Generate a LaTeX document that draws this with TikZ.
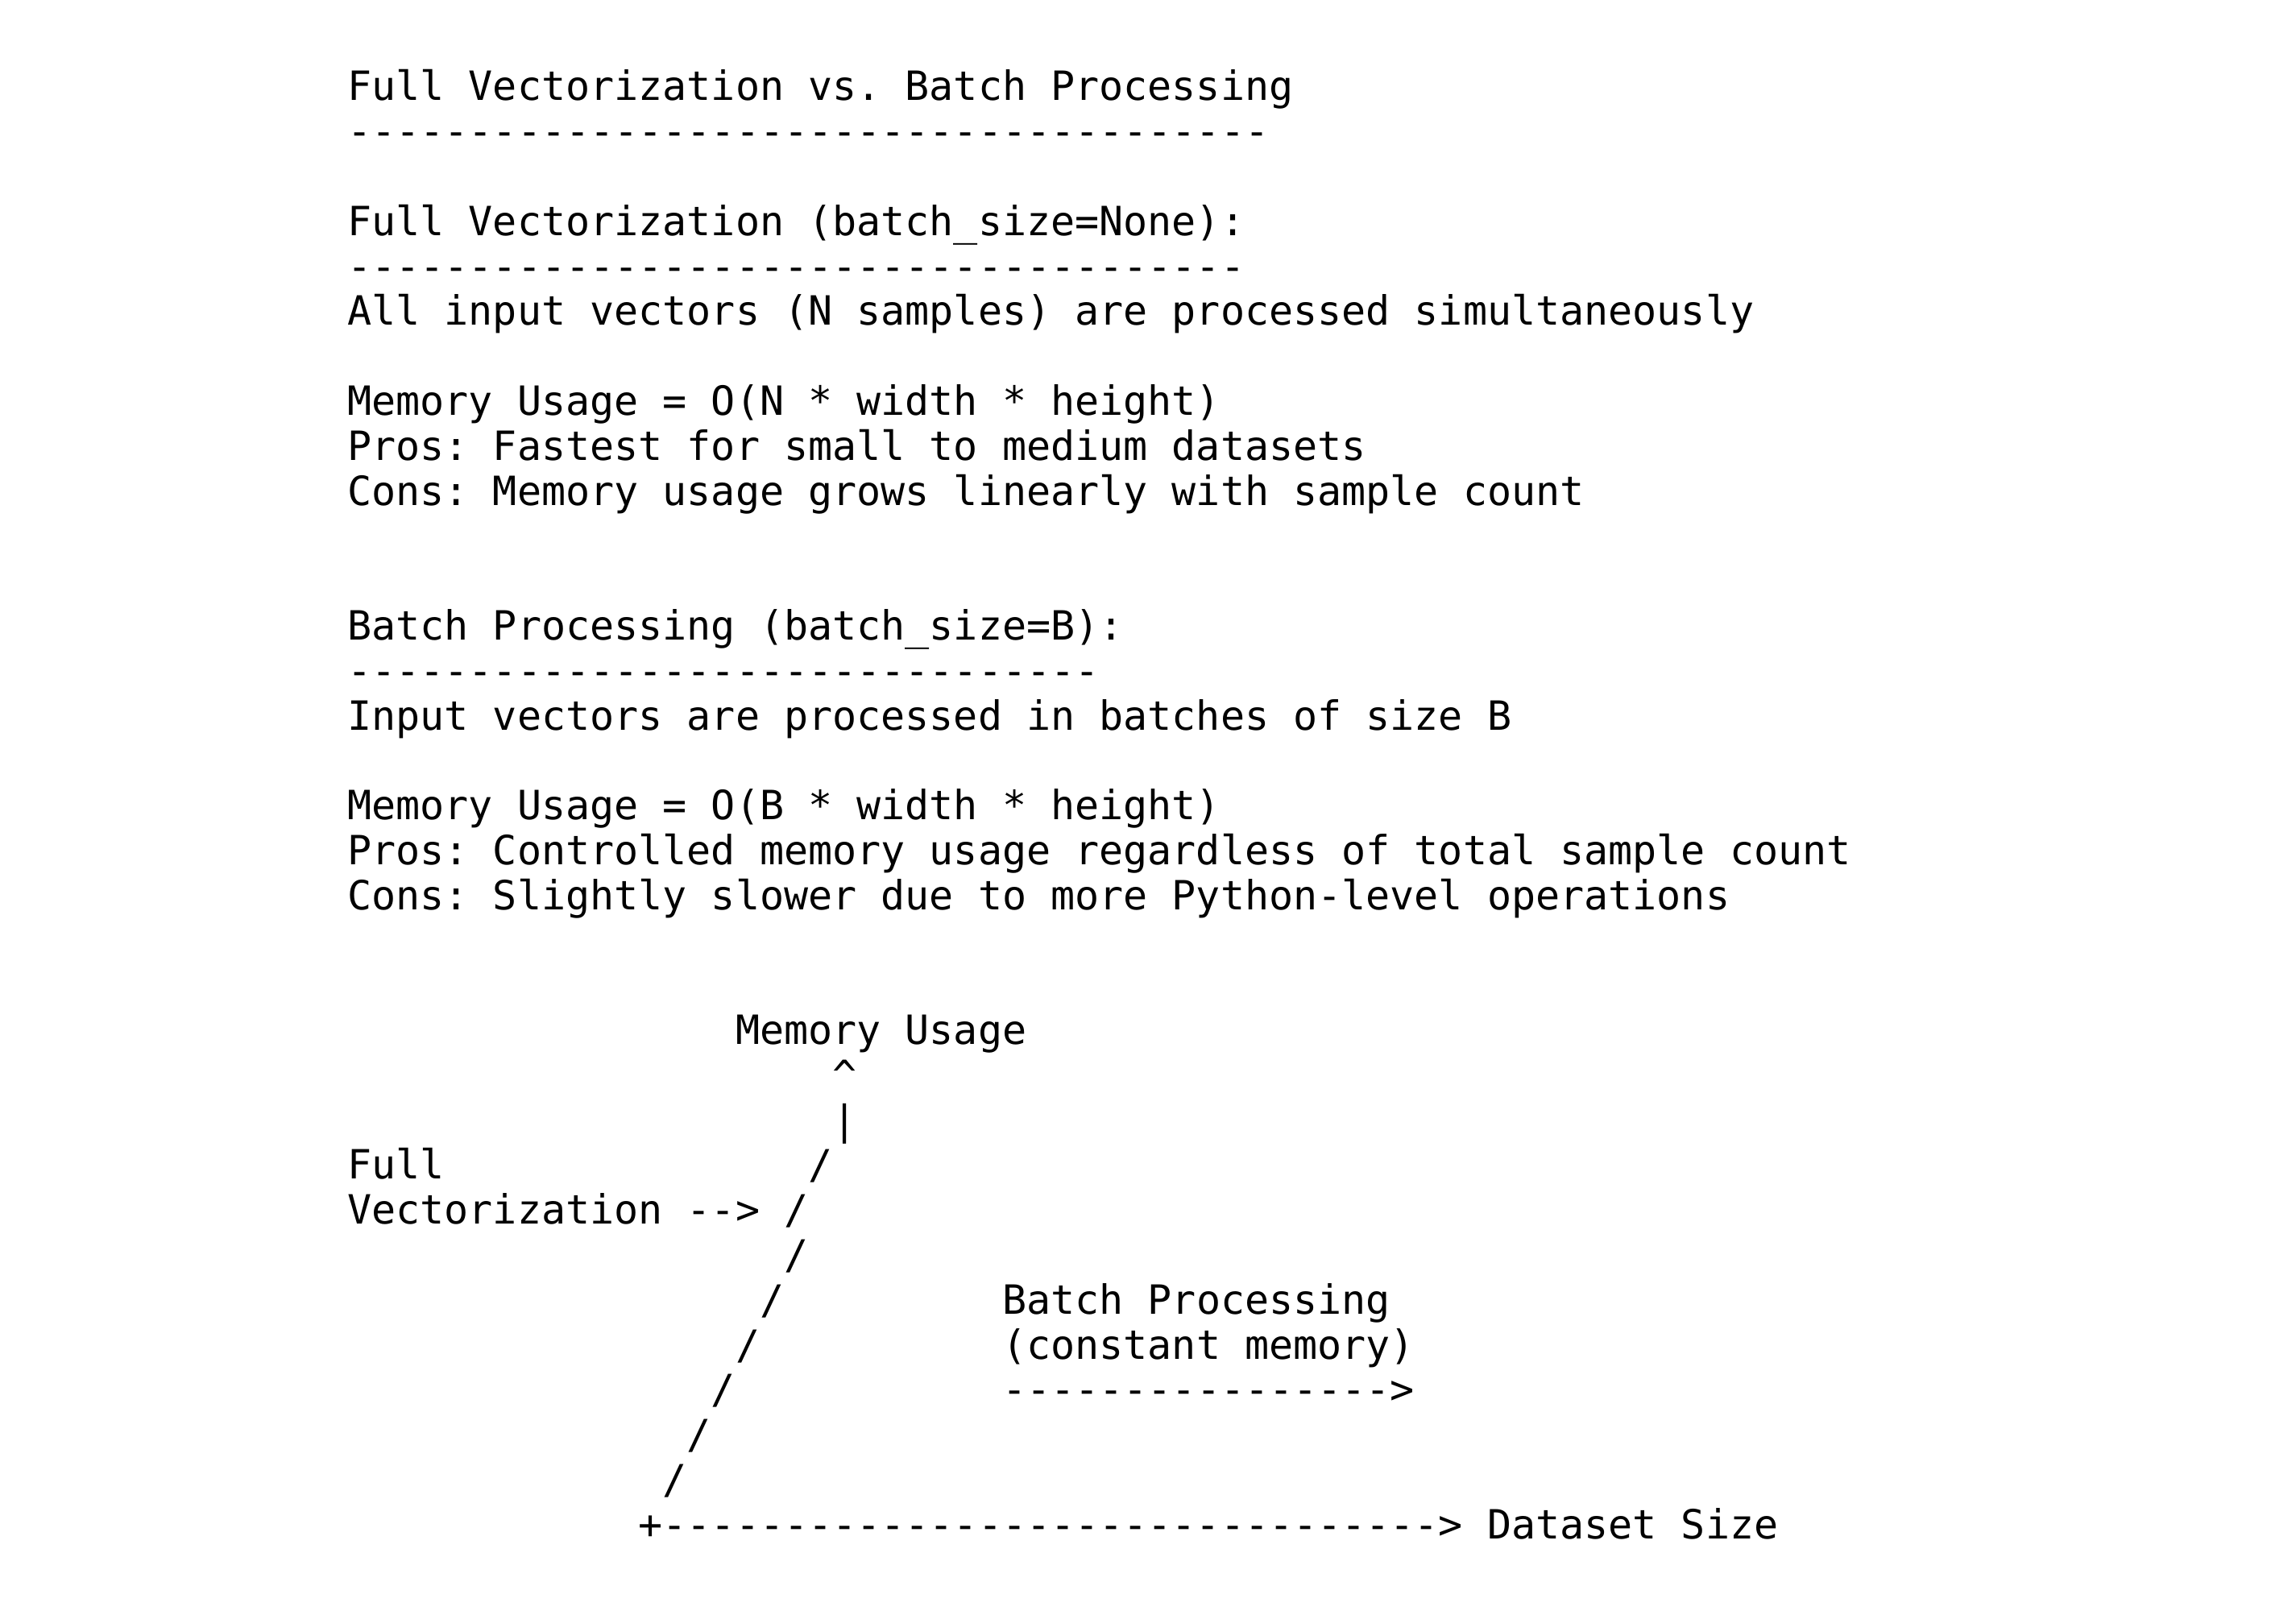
\documentclass[tikz,border=0pt]{standalone}
\usepackage{fontspec}
\setmonofont{DejaVu Sans Mono}
\usepackage{tikz}

\begin{document}
\begin{tikzpicture}[x=7.225pt,y=-13.39pt,
	every node/.style={anchor=base west,inner sep=0pt,outer sep=0pt,
		font=\ttfamily\fontsize{12}{14}\selectfont\frenchspacing}]
	\useasboundingbox (-14.33,-2.24) rectangle (80.34,33.68);
	
	%Title
	\node (title) at (0,0) {Full Vectorization vs. Batch Processing};
	\node (titlerule) at (0,1) {--------------------------------------};
	
	%Full vectorization
	\node (fullhead) at (0,3) {Full Vectorization (batch\_size=None):};
	\node (fullrule) at (0,4) {-------------------------------------};
	\node (fulltext) at (0,5) {All input vectors (N samples) are processed simultaneously};
	\node (fullmem) at (0,7) {Memory Usage = O(N * width * height)};
	\node (fullpros) at (0,8) {Pros: Fastest for small to medium datasets};
	\node (fullcons) at (0,9) {Cons: Memory usage grows linearly with sample count};
	
	%Batch processing
	\node (batchhead) at (0,12) {Batch Processing (batch\_size=B):};
	\node (batchrule) at (0,13) {-------------------------------};
	\node (batchtext) at (0,14) {Input vectors are processed in batches of size B};
	\node (batchmem) at (0,16) {Memory Usage = O(B * width * height)};
	\node (batchpros) at (0,17) {Pros: Controlled memory usage regardless of total sample count};
	\node (batchcons) at (0,18) {Cons: Slightly slower due to more Python-level operations};
	
	%sketch
	\node (ylabel) at (16,21) {Memory Usage};
	\node (ytip) at (20,22) {\textasciicircum};
	\node (ybar) at (20,23) {|};
	\foreach \c/\l in {19/24,18/25,18/26,17/27,16/28,15/29,14/30,13/31}
	\node (s\l) at (\c,\l) {/};
	
	%labels
	\node (fullname) at (0,24) {Full};
	\node (fullarrow) at (0,25) {Vectorization -->};
	\node (batchname) at (27,27) {Batch Processing};
	\node (batchnote) at (27,28) {(constant memory)};
	\node (batcharrow) at (27,29) {---------------->};
	\node (xaxis) at (12,32) {+--------------------------------> Dataset Size};
\end{tikzpicture}
\end{document}
